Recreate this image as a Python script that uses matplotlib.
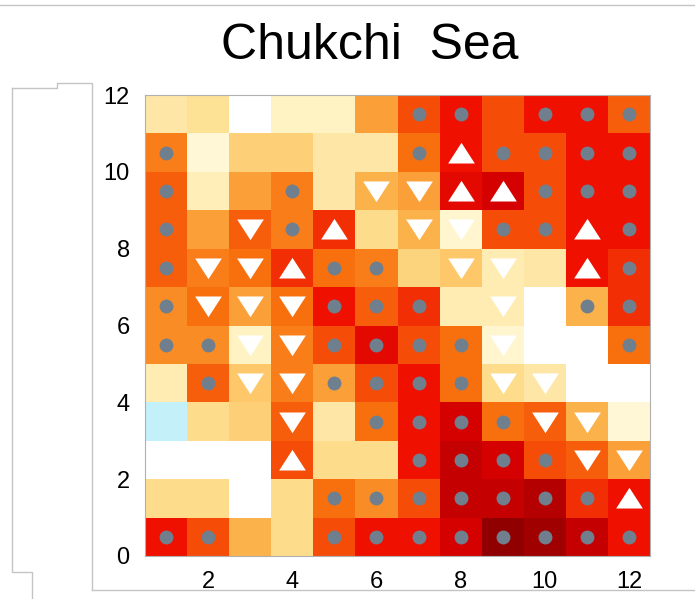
"""
Chukchi Sea: 12x12 grid of shaded cells with significance markers.

    grey dot       -> cell flagged
    white up/down  -> positive / negative trend
"""
import numpy as np
import matplotlib
matplotlib.use("Agg")
import matplotlib.pyplot as plt
from matplotlib.colors import LinearSegmentedColormap, Normalize
from matplotlib.lines import Line2D

TITLE = "Chukchi  Sea"
X_TICKS = [2, 4, 6, 8, 10, 12]
Y_TICKS = [0, 2, 4, 6, 8, 10, 12]

# cell values (-1 = light blue, 0 = white ... 10 = darkest red)
# rows listed top (y 11-12) to bottom (y 0-1), columns 1..12
VALUES = [
    [1.5, 1.8, 0.0, 1.0, 1.0, 3.5, 6.0, 7.0, 6.0, 7.0, 7.0, 5.5],
    [4.5, 0.7, 2.3, 2.3, 1.5, 1.5, 5.0, 7.0, 6.0, 6.0, 7.0, 7.0],
    [5.5, 1.2, 3.5, 4.5, 1.5, 3.0, 3.5, 7.5, 8.0, 6.0, 7.0, 7.0],
    [5.5, 3.5, 5.5, 4.5, 6.5, 2.0, 3.0, 0.8, 6.0, 6.0, 7.0, 7.0],
    [5.5, 4.5, 5.0, 6.5, 5.0, 4.5, 2.2, 2.5, 1.3, 1.5, 7.0, 6.5],
    [4.0, 5.0, 3.5, 5.0, 7.0, 5.5, 6.5, 1.3, 1.3, 0.0, 3.0, 6.5],
    [4.0, 4.0, 1.0, 4.5, 6.0, 7.5, 6.0, 5.0, 0.8, 0.0, 0.0, 5.0],
    [1.3, 5.5, 2.5, 4.5, 3.5, 6.0, 7.0, 5.0, 2.0, 1.5, 0.0, 0.0],
    [-1.0, 2.0, 2.3, 5.5, 1.5, 5.0, 7.0, 8.0, 5.0, 5.5, 3.0, 0.7],
    [0.0, 0.0, 0.0, 6.0, 2.0, 2.0, 7.0, 8.5, 8.0, 6.0, 5.5, 3.5],
    [2.0, 2.0, 0.0, 2.0, 5.0, 4.0, 6.0, 8.5, 8.5, 9.0, 6.5, 7.0],
    [7.0, 6.0, 3.0, 2.0, 6.0, 7.0, 7.0, 8.0, 10.0, 9.5, 8.5, 7.0],
]

# o = grey dot, ^ = white up triangle, v = white down triangle, . = nothing
MARKS = [
    "......oo.ooo",
    "o.....o^oooo",
    "o..o.vv^^ooo",
    "o.vo^.vvoo^o",
    "ovv^oo.vv.^o",
    "ovvvooo.v.oo",
    "oovvoooov..o",
    ".ovvoooovv..",
    "...v.oooovv.",
    "...^..oooovv",
    "....ooooooo^",
    "oo..oooooooo",
]

ANCHORS = [
    (-1, "#c4f0fa"), (0, "#ffffff"), (1, "#fff3c2"), (2, "#fddc8a"),
    (3, "#fcb24a"), (4, "#fa8c26"), (5, "#f8700e"), (6, "#f54c08"),
    (7, "#f01000"), (8, "#d60000"), (9, "#b40000"), (10, "#900000"),
]

plt.rcParams["font.family"] = ["Liberation Sans", "DejaVu Sans"]

vmin, vmax = ANCHORS[0][0], ANCHORS[-1][0]
cmap = LinearSegmentedColormap.from_list(
    "chukchi", [((v - vmin) / (vmax - vmin), c) for v, c in ANCHORS])

grid = np.array(VALUES)[::-1]          # bottom row first for pcolormesh
marks = MARKS[::-1]
ncol = grid.shape[1]
xe = np.arange(ncol + 1) + 0.5
ye = np.arange(grid.shape[0] + 1)

fig = plt.figure(figsize=(6.95, 5.99), dpi=100)
ax = fig.add_axes([145 / 695, 1 - 556 / 599, 505 / 695, 461 / 599])
ax.pcolormesh(xe, ye, grid, cmap=cmap, norm=Normalize(vmin, vmax), shading="flat")

# MATLAB-ish squat triangles
up = [(-1, -0.75), (1, -0.75), (0, 0.8)]
down = [(-1, 0.75), (1, 0.75), (0, -0.8)]
styles = {
    "o": dict(marker="o", s=100, color="#6f7f8e"),
    "^": dict(marker=up, s=370, color="white"),
    "v": dict(marker=down, s=370, color="white"),
}
for code, st in styles.items():
    xs, ys = [], []
    for r, row in enumerate(marks):
        for c, ch in enumerate(row):
            if ch == code:
                xs.append(c + 1)
                ys.append(r + 0.5)
    ax.scatter(xs, ys, linewidths=0, zorder=3, **st)

ax.set_xlim(0.5, ncol + 0.5)
ax.set_ylim(0, len(VALUES))
ax.set_xticks(X_TICKS)
ax.set_yticks(Y_TICKS)
ax.tick_params(length=0, labelsize=17, pad=11)
for s in ax.spines.values():
    s.set_color("#b0b0b0"); s.set_linewidth(0.8)

fig.text(370 / 695, 1 - 46 / 599, TITLE, ha="center", va="center", fontsize=36)

# screenshot frame remnants
gray = "#c4c4c4"
def px(x, y):
    return x / 695, 1 - y / 599
frame = [
    [(0, 5), (695, 5)],
    [(92, 590), (695, 590)],
    [(12, 88), (57, 88), (57, 83), (92, 83), (92, 590)],
    [(12, 88), (12, 572), (32, 572), (32, 599)],
]
for seg in frame:
    pts = [px(*p) for p in seg]
    fig.add_artist(Line2D([p[0] for p in pts], [p[1] for p in pts],
                          color=gray, lw=1.0, transform=fig.transFigure))

fig.savefig("out.png", dpi=100)
